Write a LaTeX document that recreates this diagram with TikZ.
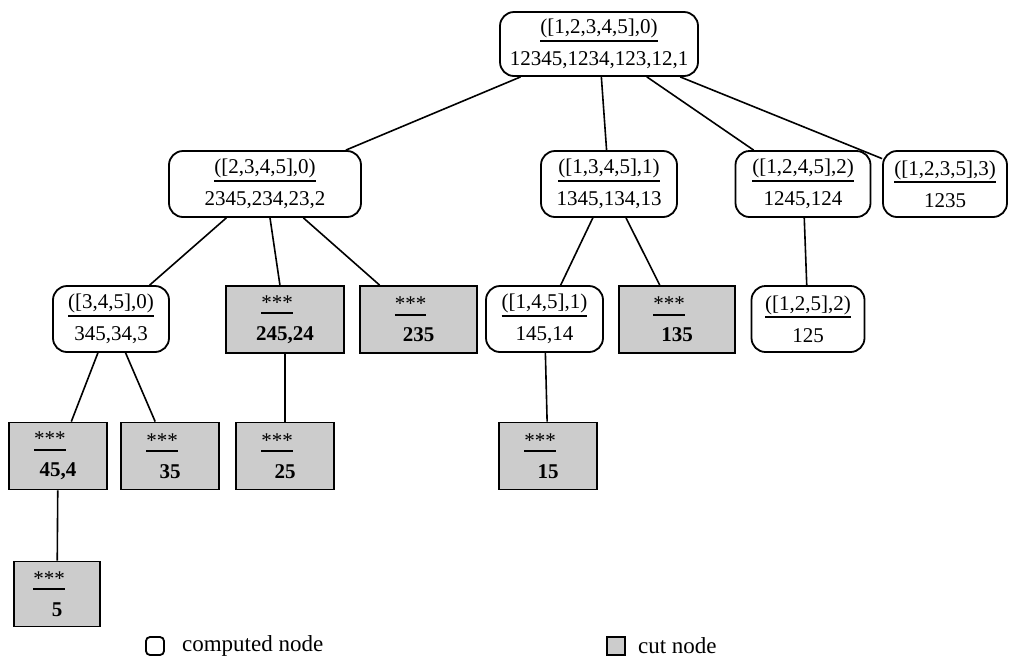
\documentclass[tikz,border=0pt]{standalone}
\usepackage{fontspec}
\setmainfont{Liberation Serif}
\usepackage{tikz}
\usetikzlibrary{positioning}
\definecolor{cutgray}{RGB}{204,204,204}
\newcommand{\ulab}[2][8pt]{\setbox0\hbox{#2}\rlap{\rule[-#1]{\wd0}{2pt}}\box0}
\newcommand{\cutlab}[1]{\ulab[5pt]{***}\rule{16pt}{0pt}\\\textbf{#1}}

\begin{document}
\begin{tikzpicture}[x=1pt,y=-1pt,
    computed/.style={draw,line width=1.8pt,rounded corners=14pt,minimum height=66pt,align=center,inner sep=0pt,font=\fontsize{21}{32}\selectfont},
    cutnode/.style={draw,line width=1.8pt,fill=cutgray,minimum height=67pt,align=center,inner sep=0pt,font=\fontsize{21}{31}\selectfont},
    edge/.style={line width=1.6pt}]
    \useasboundingbox (0,0) rectangle (1009,657);
    % level 0 and 1
    \node[computed,minimum width=198pt,minimum height=64pt] (n12345) at (599,44) {\ulab{([1,2,3,4,5],0)}\\12345,1234,123,12,1};
    \node[computed,minimum width=192pt] (n2345) at (265,184) {\ulab{([2,3,4,5],0)}\\2345,234,23,2};
    \node[computed,minimum width=136pt] (n1345) at (609,184) {\ulab{([1,3,4,5],1)}\\1345,134,13};
    \node[computed,minimum width=135pt] (n1245) at (803,184) {\ulab{([1,2,4,5],2)}\\1245,124};
    \node[computed,minimum width=124pt] (n1235) at (945,184) {\ulab{([1,2,3,5],3)}\\1235};
    % level 2
    \node[computed,minimum width=116pt] (n345) at (111,319) {\ulab{([3,4,5],0)}\\345,34,3};
    \node[cutnode,minimum width=118pt] (n245) at (285,319.5) {\cutlab{245,24}};
    \node[cutnode,minimum width=117pt] (n235) at (418.5,319.5) {\cutlab{235}};
    \node[computed,minimum width=117pt] (n145) at (544.5,319) {\ulab{([1,4,5],1)}\\145,14};
    \node[cutnode,minimum width=116pt] (n135) at (677,319.5) {\cutlab{135}};
    \node[computed,minimum width=113pt] (n125) at (808,319) {\ulab{([1,2,5],2)}\\125};
    % level 3 and 4
    \node[cutnode,minimum width=98pt] (n45) at (58,456) {\cutlab{45,4}};
    \node[cutnode,minimum width=98pt] (n35) at (170,456) {\cutlab{35}};
    \node[cutnode,minimum width=98pt] (n25) at (285,456) {\cutlab{25}};
    \node[cutnode,minimum width=98pt] (n15) at (548,456) {\cutlab{15}};
    \node[cutnode,minimum width=86pt,minimum height=65pt] (n5) at (57,594) {\cutlab{5}};
    \foreach \a/\b in {n12345/n2345,n12345/n1345,n12345/n1245,n12345/n1235,
        n2345/n345,n2345/n245,n2345/n235,n1345/n145,n1345/n135,n1245/n125,
        n345/n45,n345/n35,n245/n25,n145/n15,n45/n5}
      \draw[edge] (\a) -- (\b);
    % legend
    \node[draw,line width=1.8pt,rounded corners=4pt,minimum size=18pt,inner sep=0pt] (lcomp) at (155,646) {};
    \node[right=17pt of lcomp,inner sep=0pt,font=\fontsize{23}{28}\selectfont] (tcomp) {computed node};
    \node[draw,line width=1.8pt,fill=cutgray,minimum size=18pt,inner sep=0pt] (lcut) at (616,646) {};
    \node[right=12pt of lcut,inner sep=0pt,font=\fontsize{23}{28}\selectfont] (tcut) {cut node};
  \end{tikzpicture}
\end{document}
